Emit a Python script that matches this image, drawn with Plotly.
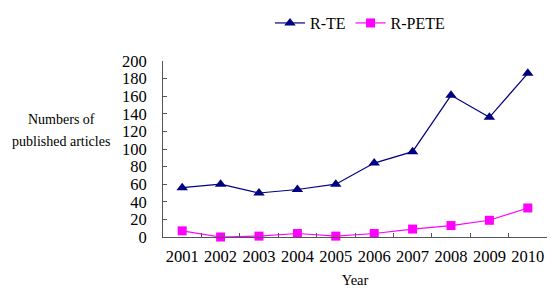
import plotly.graph_objects as go

years = ["2001", "2002", "2003", "2004", "2005", "2006", "2007", "2008", "2009", "2010"]
r_te = [56, 60, 50, 54, 60, 84, 97, 161, 136, 186]
r_pete = [7, 0, 1, 4, 1, 4, 9, 13, 19, 33]
y_ticks = [0, 20, 40, 60, 80, 100, 120, 140, 160, 180, 200]

font_family = "Liberation Serif, Times New Roman, serif"

fig = go.Figure()
fig.add_trace(go.Scatter(
    x=years, y=r_te, name="R-TE", mode="lines+markers",
    line=dict(color="#000080", width=1.2),
    marker=dict(symbol="triangle-up", size=10, color="#000080"),
    cliponaxis=False,
))
fig.add_trace(go.Scatter(
    x=years, y=r_pete, name="R-PETE", mode="lines+markers",
    line=dict(color="#FF00FF", width=1.2),
    marker=dict(symbol="square", size=9, color="#FF00FF"),
    cliponaxis=False,
))

fig.update_layout(
    width=551, height=288,
    margin=dict(l=163, r=4, t=61, b=51, autoexpand=False),
    paper_bgcolor="white", plot_bgcolor="white",
    font=dict(family=font_family, size=16, color="black"),
    showlegend=True,
    legend=dict(
        orientation="h", xref="container", yref="container",
        x=0.49, y=0.92, xanchor="left", yanchor="middle",
        font=dict(size=16), itemwidth=30, tracegroupgap=0,
        bgcolor="rgba(0,0,0,0)",
    ),
    xaxis=dict(
        type="category", showgrid=False, showline=True, linecolor="#555555", linewidth=1,
        ticks="inside", ticklen=4, tickcolor="#555555", tickson="boundaries",
        tickfont=dict(size=16.5), tickangle=0, range=[-0.5, 9.5], automargin=False,
        ticklabelstandoff=4,
        title=dict(text="Year", font=dict(size=14.5), standoff=14),
    ),
    yaxis=dict(
        range=[0, 200], tickvals=y_ticks, showgrid=False, zeroline=False,
        showline=True, linecolor="#555555", linewidth=1,
        ticks="inside", ticklen=4, tickcolor="#555555", automargin=False,
        tickfont=dict(size=16.5), ticklabelstandoff=12,
    ),
    annotations=[
        dict(text="Numbers of", xref="paper", yref="paper",
             x=-0.265, y=0.665, xanchor="center", yanchor="middle", showarrow=False,
             font=dict(size=14)),
        dict(text="published articles", xref="paper", yref="paper",
             x=-0.265, y=0.54, xanchor="center", yanchor="middle", showarrow=False,
             font=dict(size=14)),
    ],
)

fig.write_html("out.html")
